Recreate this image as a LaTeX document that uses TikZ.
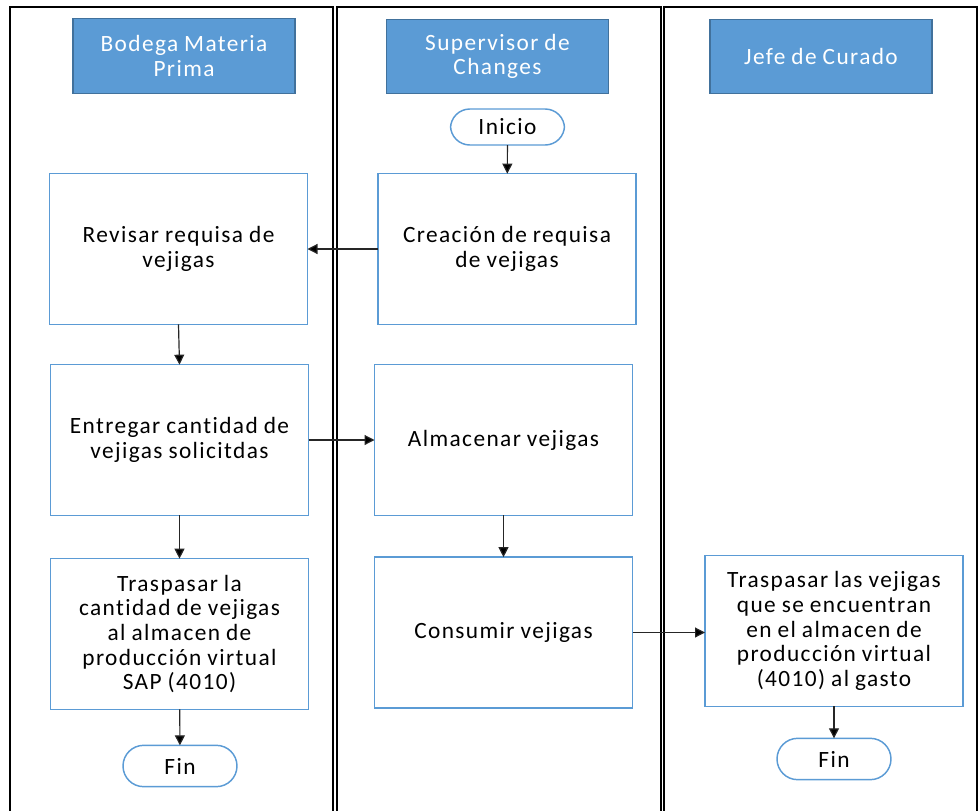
\documentclass[tikz,border=0pt]{standalone}
\usepackage{fontspec}
\setmainfont{Carlito}[LetterSpace=6, WordSpace=0.9, Ligatures=NoCommon]
\usetikzlibrary{arrows.meta}
\definecolor{hdrfill}{HTML}{5B9BD5}
\definecolor{hdrline}{HTML}{41719C}
\definecolor{boxline}{HTML}{5B9BD5}
\definecolor{wireclr}{HTML}{262626}
\begin{document}
\begin{tikzpicture}[x=0.75pt,y=-0.75pt,
  every node/.style={font=\fontsize{17.5}{18.5}\selectfont, align=center, inner sep=0pt, outer sep=0pt},
  lane/.style={draw=black, line width=1.3pt},
  header/.style={draw=hdrline, fill=hdrfill, line width=0.9pt, text=white,
    minimum width=166.5pt, minimum height=56pt},
  procbox/.style={draw=boxline, fill=white, line width=1.1pt,
    minimum width=193.5pt, minimum height=113pt},
  termbox/.style={draw=boxline, fill=white, line width=1.1pt,
    minimum width=85.5pt, minimum height=29pt, rounded corners=14.5pt},
  flow/.style={draw=wireclr, line width=0.9pt, -{Triangle[length=7.5pt,width=7.5pt,fill=black]}}]
  \useasboundingbox (0,0) rectangle (979,811);

  % swimlanes
  \begin{scope}
    \clip (0,0) rectangle (979,811);
    \draw[lane] (10,7) rectangle (333,830);
    \draw[lane] (337,7) rectangle (661,830);
    \draw[lane] (664,7) rectangle (977,830);
  \end{scope}

  % lane headers
  \node[header] (hBodega) at (184,56) {Bodega Materia\\Prima};
  \node[header] (hSuper) at (497.5,56.5) {Supervisor de\\Changes};
  \node[header] (hJefe) at (821,56.5) {Jefe de Curado};

  % Supervisor de Changes
  \node[termbox, minimum height=27pt] (inicio) at (507.5,127) {Inicio};
  \node[procbox] (crear) at (507,249) {Creación de requisa\\de vejigas};
  \node[procbox] (almacenar) at (503.5,440) {Almacenar vejigas};
  \node[procbox] (consumir) at (503.5,632.5) {Consumir vejigas};

  % Bodega Materia Prima
  \node[procbox] (revisar) at (178.5,249) {Revisar requisa de\\vejigas};
  \node[procbox] (entregar) at (179.5,440) {Entregar cantidad de\\vejigas solicitdas};
  \node[procbox] (traspasarA) at (179.5,634) {Traspasar la\\cantidad de vejigas\\al almacen de\\producción virtual\\SAP (4010)};
  \node[termbox, minimum height=31pt, rounded corners=15.5pt] (finA) at (180,766) {Fin};

  % Jefe de Curado
  \node[procbox] (traspasarB) at (834,631) {Traspasar las vejigas\\que se encuentran\\en el almacen de\\producción virtual\\(4010) al gasto};
  \node[termbox, minimum height=31pt, rounded corners=15.5pt] (finB) at (834,759) {Fin};

  % flow
  \draw[flow] (inicio) -- (crear);
  \draw[flow] (crear) -- (revisar);
  \draw[flow] (revisar.south) -- (entregar.north);
  \draw[flow] (entregar) -- (almacenar);
  \draw[flow] (almacenar) -- (consumir);
  \draw[flow] (consumir.east) -- (traspasarB.west |- consumir.east);
  \draw[flow] (entregar.south) -- (traspasarA.north);
  \draw[flow] (traspasarA) -- (finA);
  \draw[flow] (traspasarB) -- (finB);
\end{tikzpicture}
\end{document}
